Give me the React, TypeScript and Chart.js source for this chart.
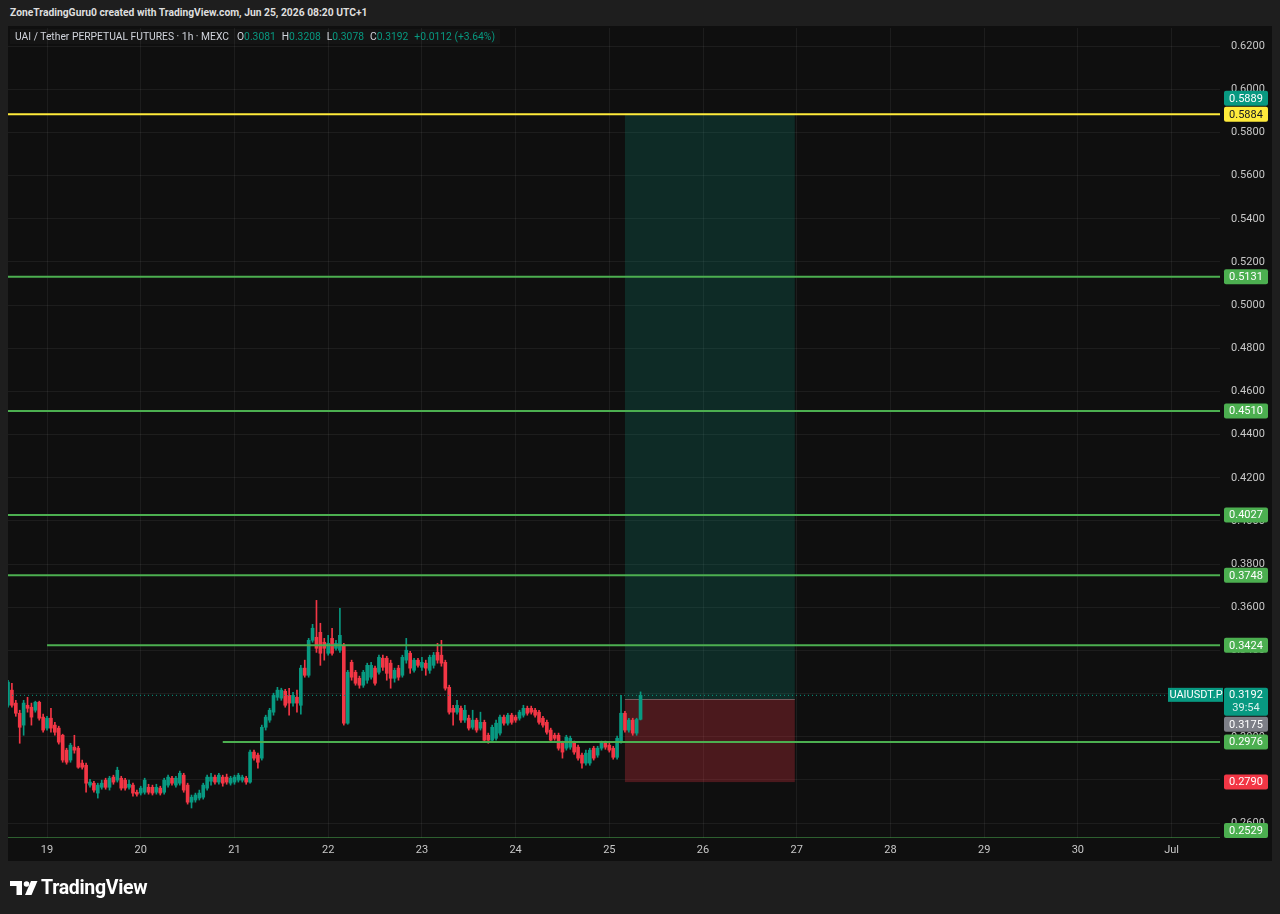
import React, { useEffect, useRef } from "react";
import { Chart, registerables } from "chart.js";

Chart.register(...registerables);

// Hours are counted from Jun 19 00:00 (UTC+1); one candle per hour.
const firstCandleHour = -10;

const opens = [
  0.3146, 0.3216, 0.3156, 0.3109, 0.3054, 0.3146, 0.3137, 0.3123, 0.3160, 0.3091,
  0.3040, 0.3086, 0.3054, 0.3040, 0.3007, 0.2938, 0.2892, 0.2952, 0.2947, 0.2878,
  0.2868, 0.2776, 0.2785, 0.2739, 0.2766, 0.2799, 0.2766, 0.2813, 0.2799, 0.2808,
  0.2799, 0.2766, 0.2776, 0.2743, 0.2739, 0.2743, 0.2766, 0.2766, 0.2743, 0.2762,
  0.2743, 0.2776, 0.2808, 0.2776, 0.2785, 0.2822, 0.2776, 0.2697, 0.2707, 0.2716,
  0.2720, 0.2762, 0.2794, 0.2813,
  0.2790, 0.2813, 0.2813, 0.2785, 0.2790, 0.2799, 0.2799, 0.2808, 0.2790, 0.2929,
  0.2915, 0.2901, 0.3044, 0.3077, 0.3114, 0.3183, 0.3179, 0.3211, 0.3192, 0.3156,
  0.3183, 0.3146, 0.3318, 0.3285, 0.3447, 0.3461, 0.3484, 0.3438, 0.3387, 0.3456,
  0.3410, 0.3401, 0.3424, 0.3063, 0.3345, 0.3299, 0.3271, 0.3239, 0.3262, 0.3276,
  0.3318, 0.3299, 0.3364, 0.3364, 0.3341, 0.3271, 0.3318, 0.3285, 0.3355, 0.3387,
  0.3308, 0.3355, 0.3322, 0.3341, 0.3308, 0.3331, 0.3391,
  0.3378, 0.3345, 0.3229, 0.3132, 0.3114, 0.3132, 0.3077, 0.3086, 0.3044, 0.3077,
  0.3040, 0.3067, 0.3007, 0.2984, 0.2993, 0.3017, 0.3091, 0.3063, 0.3100, 0.3091,
  0.3086, 0.3100, 0.3132, 0.3132, 0.3123, 0.3114, 0.3086, 0.3067, 0.3031, 0.3007,
  0.3007, 0.2970, 0.2947, 0.2952, 0.2970, 0.2952, 0.2915, 0.2878, 0.2878, 0.2947,
  0.2915, 0.2947, 0.2970, 0.2961, 0.2947, 0.2905, 0.2975, 0.3109, 0.3031, 0.3077,
  0.3017, 0.3081,
];

const highs = [
  0.3262, 0.3248, 0.3169, 0.3123, 0.3169, 0.3183, 0.3156, 0.3165, 0.3165, 0.3105,
  0.3095, 0.3132, 0.3067, 0.3049, 0.3012, 0.2947, 0.2970, 0.3007, 0.2956, 0.2892,
  0.2878, 0.2803, 0.2794, 0.2785, 0.2799, 0.2808, 0.2817, 0.2822, 0.2859, 0.2817,
  0.2808, 0.2799, 0.2785, 0.2753, 0.2771, 0.2808, 0.2780, 0.2776, 0.2780, 0.2771,
  0.2808, 0.2822, 0.2817, 0.2817, 0.2841, 0.2831, 0.2785, 0.2730, 0.2739, 0.2753,
  0.2785, 0.2822, 0.2831, 0.2822,
  0.2831, 0.2822, 0.2827, 0.2817, 0.2822, 0.2831, 0.2822, 0.2817, 0.2938, 0.2938,
  0.2924, 0.3054, 0.3100, 0.3132, 0.3202, 0.3229, 0.3225, 0.3220, 0.3225, 0.3206,
  0.3216, 0.3331, 0.3355, 0.3456, 0.3521, 0.3632, 0.3526, 0.3456, 0.3470, 0.3503,
  0.3447, 0.3595, 0.3433, 0.3308, 0.3355, 0.3308, 0.3281, 0.3308, 0.3341, 0.3345,
  0.3327, 0.3378, 0.3378, 0.3373, 0.3355, 0.3318, 0.3331, 0.3378, 0.3456, 0.3396,
  0.3364, 0.3364, 0.3368, 0.3355, 0.3378, 0.3391, 0.3433,
  0.3447, 0.3355, 0.3239, 0.3146, 0.3169, 0.3142, 0.3146, 0.3100, 0.3123, 0.3086,
  0.3114, 0.3077, 0.3017, 0.3054, 0.3077, 0.3100, 0.3100, 0.3109, 0.3109, 0.3100,
  0.3123, 0.3146, 0.3142, 0.3142, 0.3132, 0.3123, 0.3095, 0.3077, 0.3040, 0.3017,
  0.3017, 0.2980, 0.3007, 0.3003, 0.2980, 0.2961, 0.2924, 0.2938, 0.2947, 0.2956,
  0.2956, 0.2980, 0.2980, 0.2970, 0.2956, 0.3003, 0.3192, 0.3118, 0.3086, 0.3086,
  0.3086, 0.3208,
];

const lows = [
  0.3137, 0.3137, 0.3095, 0.2970, 0.3007, 0.3114, 0.3054, 0.3114, 0.3077, 0.3021,
  0.3031, 0.3021, 0.3007, 0.2966, 0.2882, 0.2873, 0.2882, 0.2924, 0.2854, 0.2850,
  0.2743, 0.2766, 0.2743, 0.2716, 0.2757, 0.2757, 0.2753, 0.2780, 0.2790, 0.2753,
  0.2753, 0.2757, 0.2725, 0.2725, 0.2730, 0.2734, 0.2734, 0.2730, 0.2734, 0.2730,
  0.2734, 0.2766, 0.2776, 0.2766, 0.2776, 0.2743, 0.2688, 0.2670, 0.2697, 0.2707,
  0.2711, 0.2753, 0.2776, 0.2780,
  0.2780, 0.2771, 0.2780, 0.2776, 0.2780, 0.2790, 0.2790, 0.2780, 0.2785, 0.2892,
  0.2854, 0.2892, 0.3031, 0.3067, 0.3100, 0.3169, 0.3169, 0.3137, 0.3100, 0.3142,
  0.3114, 0.3105, 0.3276, 0.3276, 0.3438, 0.3391, 0.3331, 0.3355, 0.3378, 0.3378,
  0.3401, 0.3391, 0.3054, 0.3058, 0.3262, 0.3239, 0.3225, 0.3229, 0.3248, 0.3267,
  0.3239, 0.3290, 0.3308, 0.3262, 0.3225, 0.3253, 0.3262, 0.3276, 0.3341, 0.3294,
  0.3299, 0.3322, 0.3308, 0.3285, 0.3294, 0.3318, 0.3341,
  0.3327, 0.3216, 0.3105, 0.3054, 0.3105, 0.3067, 0.3067, 0.3031, 0.3035, 0.3021,
  0.3031, 0.2975, 0.2970, 0.2975, 0.2984, 0.3007, 0.3054, 0.3054, 0.3058, 0.3067,
  0.3077, 0.3091, 0.3100, 0.3105, 0.3091, 0.3058, 0.3044, 0.3012, 0.2975, 0.2984,
  0.2938, 0.2901, 0.2938, 0.2942, 0.2919, 0.2892, 0.2854, 0.2868, 0.2868, 0.2892,
  0.2905, 0.2938, 0.2942, 0.2929, 0.2896, 0.2896, 0.2970, 0.3021, 0.3021, 0.3007,
  0.3007, 0.3078,
];

const closes = [
  0.3253, 0.3146, 0.3109, 0.3044, 0.3156, 0.3132, 0.3091, 0.3160, 0.3086, 0.3031,
  0.3086, 0.3040, 0.3021, 0.2975, 0.2892, 0.2882, 0.2961, 0.2938, 0.2859, 0.2859,
  0.2785, 0.2790, 0.2753, 0.2776, 0.2785, 0.2766, 0.2808, 0.2790, 0.2845, 0.2762,
  0.2762, 0.2780, 0.2739, 0.2734, 0.2762, 0.2799, 0.2743, 0.2739, 0.2766, 0.2739,
  0.2799, 0.2813, 0.2785, 0.2808, 0.2831, 0.2753, 0.2697, 0.2720, 0.2730, 0.2739,
  0.2776, 0.2813, 0.2813, 0.2790,
  0.2822, 0.2785, 0.2790, 0.2808, 0.2813, 0.2822, 0.2813, 0.2790, 0.2929, 0.2901,
  0.2882, 0.3044, 0.3091, 0.3123, 0.3192, 0.3216, 0.3216, 0.3146, 0.3156, 0.3192,
  0.3156, 0.3318, 0.3285, 0.3447, 0.3503, 0.3410, 0.3387, 0.3410, 0.3433, 0.3387,
  0.3433, 0.3470, 0.3063, 0.3299, 0.3276, 0.3248, 0.3239, 0.3299, 0.3331, 0.3331,
  0.3248, 0.3368, 0.3322, 0.3294, 0.3271, 0.3308, 0.3276, 0.3368, 0.3401, 0.3318,
  0.3355, 0.3331, 0.3345, 0.3318, 0.3368, 0.3378, 0.3355,
  0.3341, 0.3225, 0.3114, 0.3114, 0.3146, 0.3077, 0.3123, 0.3040, 0.3077, 0.3031,
  0.3067, 0.2984, 0.2984, 0.3044, 0.3063, 0.3091, 0.3063, 0.3100, 0.3067, 0.3077,
  0.3114, 0.3132, 0.3109, 0.3114, 0.3100, 0.3067, 0.3054, 0.3021, 0.2984, 0.2993,
  0.2947, 0.2929, 0.2998, 0.2993, 0.2929, 0.2901, 0.2878, 0.2924, 0.2938, 0.2901,
  0.2947, 0.2970, 0.2952, 0.2938, 0.2905, 0.2993, 0.3109, 0.3031, 0.3077, 0.3017,
  0.3080, 0.3192,
];

const dayTickLabels = ["19", "20", "21", "22", "23", "24", "25", "26", "27", "28", "29", "30", "Jul"];

const resistanceLevel = 0.5884;
const greenLevels = [0.5131, 0.451, 0.4027, 0.3748, 0.3424, 0.2976, 0.2529];
const greenLevelStartHours = [-10, -10, -10, -10, 0, 45, -10];

const positionStartHour = 148;
const positionEndHour = 191.5;
const positionTarget = 0.5889;
const positionEntry = 0.3175;
const positionStop = 0.279;

const symbolName = "UAIUSDT.P";
const countdown = "39:54";
const titleText = "UAI / Tether PERPETUAL FUTURES · 1h · MEXC";
const headerText = "ZoneTradingGuru0 created with TradingView.com, Jun 25, 2026 08:20 UTC+1";

const X_MIN = -10;
const X_MAX = 300.4;
const Y_MIN = 0.2531;
const Y_MAX = 0.6284;

const UP = "#089981";
const DOWN = "#f23645";
const LEVEL_GREEN = "#4caf50";
const YELLOW = "#ffeb3b";
const GREY = "#7d7f87";
const FONT = "Roboto, 'Noto Sans', sans-serif";

export default function App() {
  const canvasRef = useRef<HTMLCanvasElement>(null);

  useEffect(() => {
    const hours = opens.map((_, i) => firstCandleHour + i);
    const candleColors = opens.map((o, i) => (closes[i] >= o ? UP : DOWN));
    const lastPrice = closes[closes.length - 1];

    const levelDatasets: any[] = greenLevels.map((v, i) => ({
      type: "line",
      data: [
        { x: greenLevelStartHours[i], y: v },
        { x: X_MAX, y: v },
      ],
      borderColor: LEVEL_GREEN,
      borderWidth: 2,
      pointRadius: 0,
      order: 0,
    }));

    const overlay = {
      id: "overlay",
      beforeDatasetsDraw(chart: any) {
        const { ctx, scales } = chart;
        const x = scales.x;
        const y = scales.y;
        const x0 = x.getPixelForValue(positionStartHour);
        const x1 = x.getPixelForValue(positionEndHour);
        const yT = y.getPixelForValue(positionTarget);
        const yE = y.getPixelForValue(positionEntry);
        const yS = y.getPixelForValue(positionStop);
        ctx.save();
        ctx.fillStyle = "rgba(8,153,129,0.2)";
        ctx.fillRect(x0, yT, x1 - x0, yE - yT);
        ctx.fillStyle = "rgba(242,54,69,0.27)";
        ctx.fillRect(x0, yE, x1 - x0, yS - yE);
        ctx.strokeStyle = "rgba(170,170,170,0.45)";
        ctx.lineWidth = 1;
        ctx.beginPath();
        ctx.moveTo(x0, Math.round(yE) + 0.5);
        ctx.lineTo(x1, Math.round(yE) + 0.5);
        ctx.stroke();
        ctx.restore();
      },
      afterDraw(chart: any) {
        const { ctx, scales, chartArea } = chart;
        const y = scales.y;
        const left = chartArea.right + 4;
        const w = 44;
        type L = { value: number; bg: string; fg: string; lines: string[]; top?: number; h?: number };
        const fixed: L[] = [
          { value: resistanceLevel, bg: YELLOW, fg: "#131722", lines: [resistanceLevel.toFixed(4)] },
          { value: lastPrice, bg: UP, fg: "#ffffff", lines: [lastPrice.toFixed(4), countdown] },
        ];
        const others: L[] = [
          { value: positionTarget, bg: UP, fg: "#ffffff", lines: [positionTarget.toFixed(4)] },
          { value: positionEntry, bg: GREY, fg: "#ffffff", lines: [positionEntry.toFixed(4)] },
          { value: positionStop, bg: DOWN, fg: "#ffffff", lines: [positionStop.toFixed(4)] },
          ...greenLevels.map((v) => ({ value: v, bg: LEVEL_GREEN, fg: "#ffffff", lines: [v.toFixed(4)] })),
        ];
        const placed: L[] = [];
        const place = (l: L) => {
          const h = l.lines.length > 1 ? 28 : 15;
          let top = y.getPixelForValue(l.value) - 7.5;
          for (let k = 0; k < 6; k++) {
            let moved = false;
            for (const p of placed) {
              if (top < p.top! + p.h! && top + h > p.top!) {
                if (l.value > p.value) top = p.top! - 1 - h;
                else top = p.top! + p.h! + 1;
                moved = true;
              }
            }
            if (!moved) break;
          }
          if (top + h > chartArea.bottom) top = chartArea.bottom - h;
          l.top = top;
          l.h = h;
          placed.push(l);
        };
        fixed.forEach(place);
        others.forEach(place);

        ctx.save();
        ctx.font = `11px ${FONT}`;
        ctx.textBaseline = "middle";
        const lp = fixed[1];
        ctx.fillStyle = UP;
        ctx.fillRect(chartArea.right - 52, lp.top!, 55, 14);
        ctx.fillStyle = "#ffffff";
        ctx.textAlign = "center";
        ctx.fillText(symbolName, chartArea.right - 24, lp.top! + 7.5);

        for (const l of placed) {
          ctx.fillStyle = l.bg;
          ctx.beginPath();
          (ctx as any).roundRect(left, l.top!, w, l.h!, 2);
          ctx.fill();
          ctx.fillStyle = l.fg;
          ctx.textAlign = "center";
          if (l.lines.length > 1) {
            ctx.fillText(l.lines[0], left + w / 2, l.top! + 7.5);
            ctx.fillStyle = "rgba(255,255,255,0.85)";
            ctx.fillText(l.lines[1], left + w / 2, l.top! + 20.5);
          } else {
            ctx.fillText(l.lines[0], left + w / 2, l.top! + 8);
          }
        }
        ctx.restore();
      },
    };

    const chart = new Chart(canvasRef.current!, {
      type: "bar",
      data: {
        datasets: [
          {
            type: "line",
            data: [
              { x: X_MIN, y: resistanceLevel },
              { x: X_MAX, y: resistanceLevel },
            ],
            borderColor: YELLOW,
            borderWidth: 2,
            pointRadius: 0,
            order: 0,
          } as any,
          ...levelDatasets,
          {
            type: "line",
            data: [
              { x: X_MIN, y: lastPrice },
              { x: X_MAX, y: lastPrice },
            ],
            borderColor: UP,
            borderWidth: 1,
            borderDash: [1, 3],
            pointRadius: 0,
            order: 0,
          } as any,
          {
            type: "bar",
            data: hours.map((h, i) => ({ x: h, y: [opens[i], closes[i]] })),
            backgroundColor: candleColors,
            borderWidth: 0,
            barThickness: 3,
            minBarLength: 1,
            grouped: false,
            order: 1,
          } as any,
          {
            type: "bar",
            data: hours.map((h, i) => ({ x: h, y: [lows[i], highs[i]] })),
            backgroundColor: candleColors,
            borderWidth: 0,
            barThickness: 1,
            grouped: false,
            order: 2,
          } as any,
        ],
      },
      options: {
        responsive: false,
        animation: false,
        events: [],
        layout: { padding: { left: 8, top: 28, right: 8, bottom: 54 } },
        plugins: { legend: { display: false }, tooltip: { enabled: false } },
        scales: {
          x: {
            type: "linear",
            min: X_MIN,
            max: X_MAX,
            offset: false,
            border: { display: false },
            grid: { color: "rgba(255,255,255,0.06)", drawTicks: false, offset: false },
            ticks: {
              stepSize: 24,
              includeBounds: false,
              autoSkip: false,
              maxRotation: 0,
              padding: 6,
              color: "#c8c8c8",
              font: { family: FONT, size: 11 },
              callback: (v: any) => {
                const n = Number(v);
                if (n % 24 !== 0) return "";
                return dayTickLabels[n / 24] ?? "";
              },
            },
            afterFit: (s: any) => {
              s.height = 22;
            },
          } as any,
          y: {
            type: "linear",
            position: "right",
            min: Y_MIN,
            max: Y_MAX,
            border: { display: false },
            grid: { color: "rgba(255,255,255,0.06)", drawTicks: false },
            ticks: {
              stepSize: 0.02,
              includeBounds: false,
              padding: 11,
              color: "#c8c8c8",
              font: { family: FONT, size: 11 },
              callback: (v: any) => Number(v).toFixed(4),
            },
            afterFit: (s: any) => {
              s.width = 52;
            },
          } as any,
        },
      },
      plugins: [overlay],
    } as any);
    return () => chart.destroy();
  }, []);

  const last = opens.length - 1;
  const change = closes[last] - closes[last - 1];
  const pct = (change / closes[last - 1]) * 100;
  const val = { color: UP };

  return (
    <div
      style={{
        position: "fixed",
        left: 0,
        top: 0,
        width: 1280,
        height: 914,
        background: "#1e1e1e",
        overflow: "hidden",
        fontFamily: FONT,
      }}
    >
      <div
        style={{
          position: "absolute",
          left: 10,
          top: 6,
          fontSize: 10.3,
          fontWeight: 700,
          color: "#dedede",
          whiteSpace: "nowrap",
        }}
      >
        {headerText}
      </div>
      <div
        style={{
          position: "absolute",
          left: 8,
          top: 26,
          width: 1264,
          height: 835,
          background: "#0f0f0f",
        }}
      />
      <canvas
        ref={canvasRef}
        width={1280}
        height={914}
        style={{ position: "absolute", left: 0, top: 0, width: 1280, height: 914 }}
      />
      <div
        style={{
          position: "absolute",
          left: 10,
          top: 29,
          height: 15,
          lineHeight: "15px",
          padding: "0 5px",
          fontSize: 10.3,
          color: "#d1d4dc",
          whiteSpace: "nowrap",
          background: "rgba(255,255,255,0.025)",
        }}
      >
        <span>{titleText}</span>
        <span style={{ marginLeft: 8 }}>O</span>
        <span style={val}>{opens[last].toFixed(4)}</span>
        <span style={{ marginLeft: 6 }}>H</span>
        <span style={val}>{highs[last].toFixed(4)}</span>
        <span style={{ marginLeft: 6 }}>L</span>
        <span style={val}>{lows[last].toFixed(4)}</span>
        <span style={{ marginLeft: 6 }}>C</span>
        <span style={val}>{closes[last].toFixed(4)}</span>
        <span style={{ ...val, marginLeft: 6 }}>
          {(change >= 0 ? "+" : "") + change.toFixed(4)} ({(pct >= 0 ? "+" : "") + pct.toFixed(2)}%)
        </span>
      </div>
      <div
        style={{
          position: "absolute",
          left: 10,
          top: 876,
          display: "flex",
          alignItems: "center",
          color: "#ffffff",
          fontSize: 19.5,
          fontWeight: 700,
          letterSpacing: -0.3,
        }}
      >
        <svg width="28" height="16" viewBox="0 0 28 16" style={{ marginRight: 3 }}>
          <path d="M0 1 H12 V15 H6.5 V6 H0 Z" fill="#ffffff" />
          <circle cx="16.5" cy="4" r="2.8" fill="#ffffff" />
          <path d="M21 1 H27.5 L21.5 15 H15 Z" fill="#ffffff" />
        </svg>
        <span>TradingView</span>
      </div>
    </div>
  );
}
